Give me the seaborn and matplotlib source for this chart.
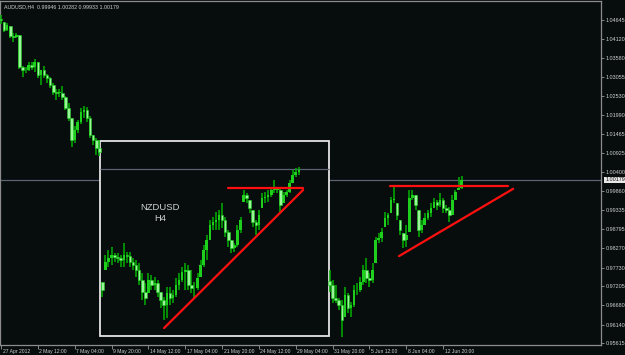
import numpy as np
import pandas as pd
import matplotlib
matplotlib.use("Agg")
import matplotlib.pyplot as plt
import matplotlib.transforms as mtransforms
from matplotlib.patches import Rectangle
import seaborn as sns

nan = float("nan")

# ---------------- data (AUDUSD H4 with NZDUSD H4 inset segment) ----------------
close = [
    1.0465, 1.0437, 1.0451, 1.0420, 1.0417, 1.0423, 1.0333, 1.0325, 1.0325, 1.0339,
    1.0333, 1.0347, 1.0311, 1.0325, 1.0311, 1.0303, 1.0283, 1.0263, 1.0261, 1.0261,
    1.0249, 1.0219, 1.0191, 1.0129, 1.0157, 1.0180, 1.0208, 1.0213, 1.0191, 1.0143,
    1.0129, 1.0107, 1.0096, 0.9710, 0.9789, 0.9800, 0.9808, 0.9803, 0.9800, 0.9794,
    0.9808, 0.9805, 0.9789, 0.9780, 0.9766, 0.9738, 0.9705, 0.9688, 0.9738, 0.9724,
    0.9730, 0.9705, 0.9683, 0.9669, 0.9702, 0.9688, 0.9696, 0.9724, 0.9738, 0.9761,
    0.9766, 0.9724, 0.9716, 0.9716, 0.9744, 0.9780, 0.9822, 0.9850, 0.9892, 0.9900,
    0.9906, 0.9920, 0.9906, 0.9872, 0.9850, 0.9828, 0.9836, 0.9878, 0.9906, 0.9976,
    0.9967, 0.9939, 0.9900, 0.9892, 0.9920, 0.9967, 0.9970, 0.9976, 0.9990, 0.9990,
    0.9990, 0.9948, 0.9976, 0.9984, 1.0009, 1.0032, 1.0040, 1.0046, nan, nan,
    nan, nan, nan, nan, nan, nan, nan, 0.9724, 0.9688, 0.9683,
    0.9669, 0.9627, 0.9696, 0.9660, 0.9669, 0.9710, 0.9710, 0.9733, 0.9766, 0.9744,
    0.9738, 0.9766, 0.9850, 0.9856, 0.9872, 0.9912, 0.9920, 0.9962, 0.9962, 0.9920,
    0.9878, 0.9850, 0.9864, 0.9967, 0.9976, 0.9948, 0.9878, 0.9892, 0.9912, 0.9926,
    0.9939, 0.9956, 0.9948, 0.9962, 0.9939, 0.9934, 0.9920, 0.9962, 0.9984, 0.9995,
    1.00179,
]
high = [
    1.0479, 1.0459, 1.0456, 1.0448, 1.0428, 1.0428, 1.0423, 1.0336, 1.0333, 1.0347,
    1.0347, 1.0356, 1.0347, 1.0325, 1.0336, 1.0314, 1.0305, 1.0289, 1.0272, 1.0272,
    1.0280, 1.0252, 1.0233, 1.0191, 1.0168, 1.0185, 1.0219, 1.0224, 1.0222, 1.0196,
    1.0143, 1.0135, 1.0129, 0.9733, 0.9808, 0.9822, 0.9831, 0.9814, 0.9814, 0.9808,
    0.9842, 0.9817, 0.9817, 0.9800, 0.9794, 0.9786, 0.9758, 0.9730, 0.9758, 0.9752,
    0.9747, 0.9738, 0.9705, 0.9691, 0.9719, 0.9719, 0.9710, 0.9744, 0.9758, 0.9775,
    0.9786, 0.9780, 0.9766, 0.9733, 0.9758, 0.9794, 0.9836, 0.9864, 0.9906, 0.9914,
    0.9928, 0.9934, 0.9953, 0.9914, 0.9878, 0.9850, 0.9842, 0.9892, 0.9914, 0.9990,
    0.9981, 0.9962, 0.9934, 0.9906, 0.9934, 0.9981, 0.9984, 0.9990, 0.9998, 1.0018,
    0.9998, 0.9995, 0.9984, 0.9990, 1.0018, 1.0046, 1.0051, 1.0054, nan, nan,
    nan, nan, nan, nan, nan, nan, nan, 0.9766, 0.9738, 0.9724,
    0.9688, 0.9683, 0.9719, 0.9702, 0.9677, 0.9724, 0.9730, 0.9747, 0.9780, 0.9800,
    0.9758, 0.9786, 0.9858, 0.9870, 0.9884, 0.9928, 0.9926, 0.9970, 0.9998, 0.9953,
    0.9906, 0.9870, 0.9892, 0.9990, 0.9990, 0.9976, 0.9934, 0.9906, 0.9926, 0.9934,
    0.9953, 0.9967, 0.9962, 0.9981, 0.9967, 0.9948, 0.9942, 0.9976, 0.9990, 1.0026,
    1.0028,
]
low = [
    1.0453, 1.0431, 1.0434, 1.0414, 1.0403, 1.0414, 1.0328, 1.0305, 1.0317, 1.0322,
    1.0325, 1.0319, 1.0303, 1.0283, 1.0303, 1.0289, 1.0275, 1.0255, 1.0241, 1.0249,
    1.0241, 1.0213, 1.0182, 1.0110, 1.0121, 1.0149, 1.0174, 1.0191, 1.0180, 1.0135,
    1.0115, 1.0088, 1.0085, 0.9691, 0.9766, 0.9775, 0.9780, 0.9789, 0.9786, 0.9775,
    0.9775, 0.9786, 0.9775, 0.9766, 0.9747, 0.9724, 0.9683, 0.9669, 0.9702, 0.9710,
    0.9710, 0.9691, 0.9660, 0.9627, 0.9632, 0.9669, 0.9674, 0.9691, 0.9710, 0.9733,
    0.9710, 0.9710, 0.9702, 0.9688, 0.9710, 0.9747, 0.9775, 0.9794, 0.9850, 0.9878,
    0.9878, 0.9878, 0.9884, 0.9858, 0.9831, 0.9814, 0.9817, 0.9831, 0.9870, 0.9956,
    0.9953, 0.9926, 0.9886, 0.9864, 0.9878, 0.9939, 0.9953, 0.9956, 0.9970, 0.9981,
    0.9981, 0.9926, 0.9953, 0.9970, 0.9981, 1.0009, 1.0026, 1.0032, nan, nan,
    nan, nan, nan, nan, nan, nan, nan, 0.9705, 0.9674, 0.9674,
    0.9655, 0.9579, 0.9635, 0.9646, 0.9635, 0.9663, 0.9696, 0.9705, 0.9724, 0.9730,
    0.9719, 0.9730, 0.9786, 0.9842, 0.9845, 0.9886, 0.9892, 0.9926, 0.9953, 0.9906,
    0.9864, 0.9828, 0.9831, 0.9872, 0.9962, 0.9934, 0.9858, 0.9870, 0.9892, 0.9906,
    0.9914, 0.9939, 0.9934, 0.9942, 0.9926, 0.9926, 0.9900, 0.9920, 0.9962, 0.9990,
    0.9993,
]

x_tick_labels = ["27 Apr 2012", "2 May 12:00", "7 May 04:00", "9 May 20:00",
                 "14 May 12:00", "17 May 04:00", "21 May 20:00", "24 May 12:00",
                 "29 May 04:00", "31 May 20:00", "5 Jun 12:00", "8 Jun 04:00",
                 "12 Jun 20:00"]
bars_per_label = 12
y_tick_values = [1.04645, 1.04120, 1.03580, 1.03055, 1.02530, 1.01990, 1.01465,
                 1.00925, 1.00400, 0.99860, 0.99335, 0.98795, 0.98270, 0.97730,
                 0.97205, 0.96680, 0.96140, 0.95615]
last_price = 1.00179
inset_price = 1.0048
header = "AUDUSD,H4  0.99946 1.00282 0.99933 1.00179"
inset_title = "NZDUSD\nH4"

# trendlines: (bar index, price)
trend_line = ["L_top", "L_top", "L_bot", "L_bot", "R_top", "R_top", "R_bot", "R_bot"]
trend_x = [73.9, 98.4, 53.1, 98.4, 126.7, 165.1, 129.6, 166.8]
trend_y = [0.9995, 0.9995, 0.9604, 0.9990, 1.0001, 1.0001, 0.9805, 0.9993]

# inset box (bar index / price)
box_x = [32.25, 106.8]
box_y = [0.9582, 1.0127]

# ---------------- styling ----------------
bg = "#070c0c"
fg = "#cfd2d2"
sns.set_style("dark", {"axes.facecolor": bg, "figure.facecolor": bg,
                       "axes.edgecolor": "#8c8c8c", "grid.color": bg})
plt.rcParams["font.family"] = ["Liberation Sans", "DejaVu Sans"]

df = pd.DataFrame({"close": close, "high": high, "low": low})
df["idx"] = np.arange(len(df))
prev = df["close"].shift(1)
prev = prev.where(prev.notna(), (df["high"] + df["low"]) / 2)
df["open"] = np.clip(prev, df["low"], df["high"])
df.loc[len(df) - 1, "open"] = 0.99946

fig = plt.figure(figsize=(6.25, 3.55), dpi=100)
fig.patch.set_facecolor(bg)
ax = fig.add_axes([0.0, 10 / 355, 601 / 625, 344 / 355])
ax.set_facecolor(bg)

# price line of main chart (under inset box)
ax.axhline(last_price, color="#5c6474", lw=0.9, zorder=1)

# inset box
ax.add_patch(Rectangle((box_x[0], box_y[0]), box_x[1] - box_x[0], box_y[1] - box_y[0],
                       facecolor=bg, edgecolor="#e4e4e4", lw=1.3, zorder=2))
ax.hlines(inset_price, box_x[0], box_x[1], color="#5c6474", lw=0.9, zorder=2.5)

# candles
valid = df.dropna(subset=["close"])
ax.vlines(valid["idx"], valid["low"], valid["high"], color="#00b000", lw=1.1, zorder=3)
up = valid[valid["close"] >= valid["open"]]
dn = valid[valid["close"] < valid["open"]]
ax.bar(up["idx"], np.maximum(up["close"] - up["open"], 0.00012), bottom=up["open"],
       width=0.85, color="#1ecf1e", edgecolor="none", zorder=3.5)
ax.bar(dn["idx"], np.maximum(dn["open"] - dn["close"], 0.00012), bottom=dn["close"],
       width=0.85, color="#9af59a", edgecolor="#1ecf1e", lw=0.4, zorder=3.5)

# trendlines via seaborn
tdf = pd.DataFrame({"line": trend_line, "x": trend_x, "y": trend_y})
sns.lineplot(data=tdf, x="x", y="y", units="line", estimator=None, sort=False,
             color="#ff1010", lw=1.6, ax=ax, zorder=4, legend=False)

# texts
ax.text(51.8, 0.9926, inset_title, color=fg, fontsize=6.8, ha="center", va="center",
        multialignment="center", linespacing=1.25, zorder=5)
ax.text(0.006, 0.984, header, transform=ax.transAxes, color=fg, fontsize=3.8,
        ha="left", va="center")

# axes limits / ticks
ax.set_xlim(-0.33, 195.4)
ax.set_ylim(0.95568, 1.05176)
ax.set_xlabel("")
ax.set_ylabel("")
ax.grid(False)

ax.set_xticks(np.arange(len(x_tick_labels)) * bars_per_label)
ax.set_xticklabels(x_tick_labels)
ax.tick_params(axis="x", direction="out", length=2.6, width=0.6, color="#9a9a9a",
               labelsize=3.6, labelcolor=fg, pad=0.2, bottom=True)
offset = mtransforms.ScaledTranslation(1.5 / 100, 0, fig.dpi_scale_trans)
for lab in ax.get_xticklabels():
    lab.set_horizontalalignment("left")
    lab.set_transform(lab.get_transform() + offset)

ax.yaxis.tick_right()
ax.set_yticks(y_tick_values)
ax.set_yticklabels([f"{v:.5f}" for v in y_tick_values])
ax.tick_params(axis="y", direction="out", length=2, width=0.6, color="#9a9a9a",
               labelsize=3.9, labelcolor=fg, pad=1.5, right=True, left=False)

for s in ax.spines.values():
    s.set_color("#8c8c8c")
    s.set_linewidth(0.9)

ax.annotate(f"{last_price:.5f}", xy=(1.0, last_price),
            xycoords=("axes fraction", "data"), xytext=(3, 0),
            textcoords="offset points", fontsize=3.9, color="#101010",
            ha="left", va="center",
            bbox=dict(boxstyle="square,pad=0.15", fc="#e8e8e8", ec="none"))

fig.savefig("out.png", dpi=100, facecolor=bg)
